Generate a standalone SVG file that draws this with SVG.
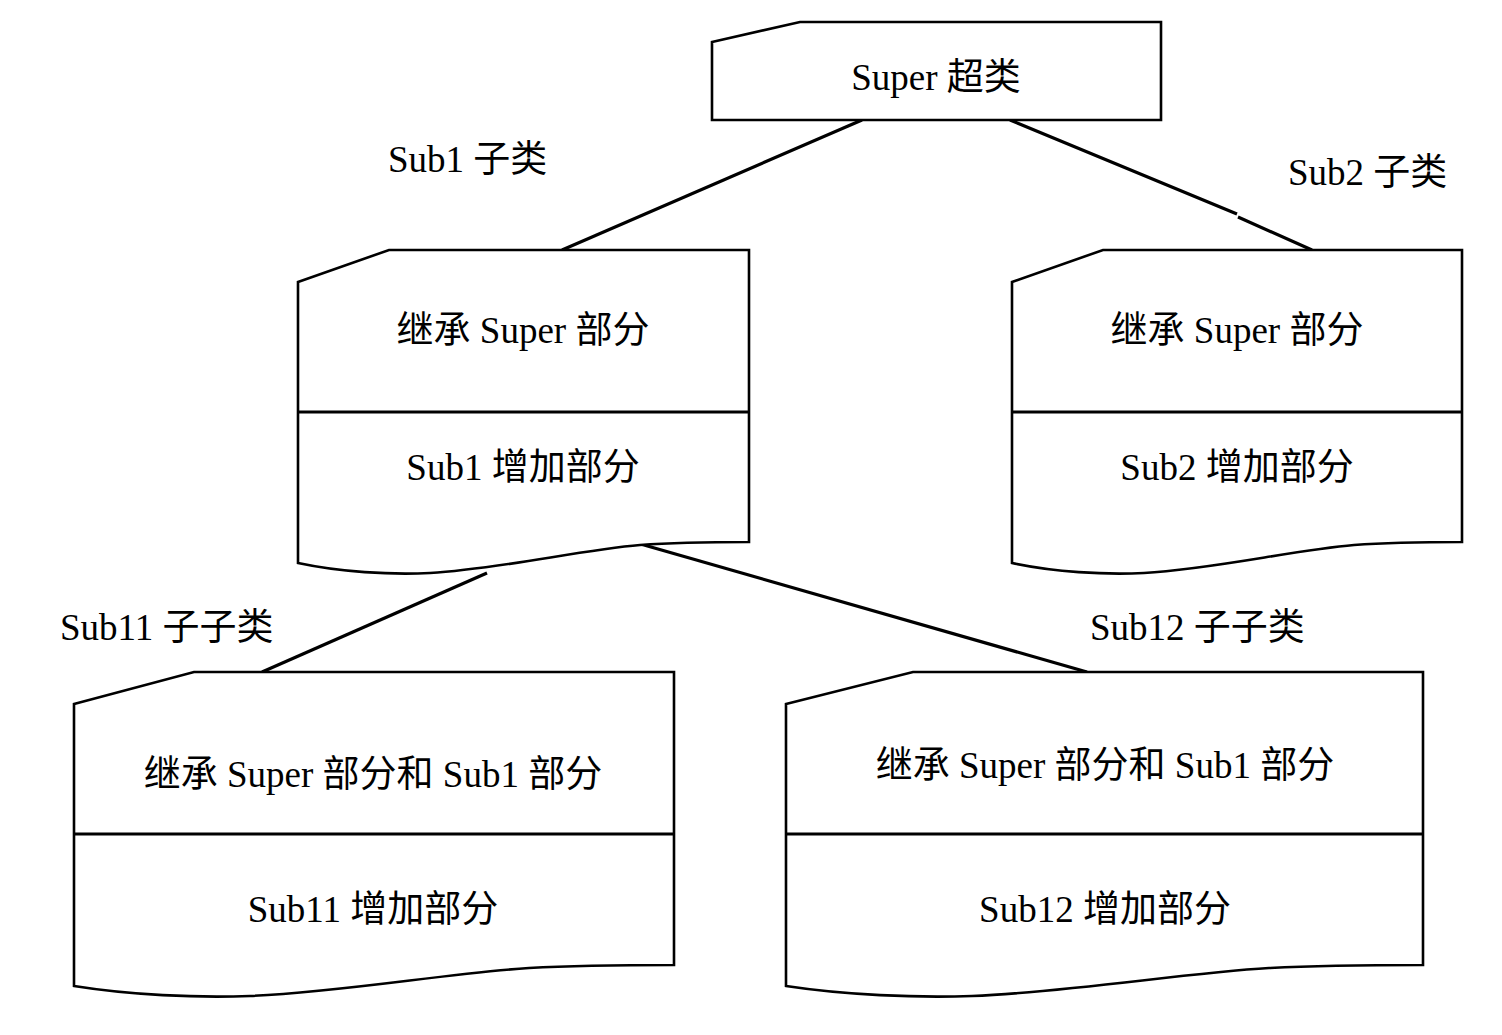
<svg xmlns="http://www.w3.org/2000/svg" width="1502" height="1035" viewBox="0 0 1502 1035">
<style>
.shape{fill:#fff;stroke:#000;stroke-width:2.6;stroke-linejoin:miter}
.div{stroke:#000;stroke-width:3}
.conn{stroke:#000;stroke-width:3.2;fill:none}
text{font-family:"Liberation Serif","Noto Sans CJK SC",serif;font-size:37px;fill:#000}
.c{text-anchor:middle}
</style>
<rect width="1502" height="1035" fill="#fff"/>
<g id="connectors">
<line class="conn" x1="862" y1="120" x2="562" y2="250"/>
<path class="conn" d="M1010,120 L1237,214 M1238,217 L1312,250"/>
<line class="conn" x1="487" y1="573" x2="262" y2="672"/>
<line class="conn" x1="637" y1="543" x2="1087" y2="672"/>
</g>
<g id="super">
<path class="shape" d="M712,42 L800,22 L1161,22 L1161,120 L712,120 Z"/>
<text class="c" x="936" y="90">Super 超类</text>
</g>
<g id="sub1">
<path class="shape" d="M298,282 L389,250 L749,250 L749,542 C720,542 680,542 640,545 C580,550 500,569 430,573 C390,575 340,572 298,563 Z"/>
<line class="div" x1="298" y1="412" x2="749" y2="412"/>
<text class="c" x="523" y="343">继承 Super 部分</text>
<text class="c" x="523" y="480">Sub1 增加部分</text>
</g>
<g id="sub2">
<path class="shape" d="M1012,282 L1103,250 L1462,250 L1462,542 C1434,542 1394,542 1354,545 C1294,550 1214,569 1144,573 C1104,575 1054,572 1012,563 Z"/>
<line class="div" x1="1012" y1="412" x2="1462" y2="412"/>
<text class="c" x="1237" y="343">继承 Super 部分</text>
<text class="c" x="1237" y="480">Sub2 增加部分</text>
</g>
<g id="sub11">
<path class="shape" d="M74,704 L194,672 L674,672 L674,965 C635,965 582,965 529,968 C449,973 343,992 250,996 C196,998 130,995 74,986 Z"/>
<line class="div" x1="74" y1="834" x2="674" y2="834"/>
<text class="c" x="373" y="787">继承 Super 部分和 Sub1 部分</text>
<text class="c" x="373" y="922">Sub11 增加部分</text>
</g>
<g id="sub12">
<path class="shape" d="M786,704 L913,672 L1423,672 L1423,965 C1382,965 1325,965 1269,968 C1184,973 1071,992 972,996 C916,998 845,995 786,986 Z"/>
<line class="div" x1="786" y1="834" x2="1423" y2="834"/>
<text class="c" x="1105" y="778">继承 Super 部分和 Sub1 部分</text>
<text class="c" x="1105" y="922">Sub12 增加部分</text>
</g>
<g id="labels">
<text x="388" y="172">Sub1 子类</text>
<text x="1288" y="185">Sub2 子类</text>
<text x="60" y="640">Sub11 子子类</text>
<text x="1090" y="640">Sub12 子子类</text>
</g>
</svg>
